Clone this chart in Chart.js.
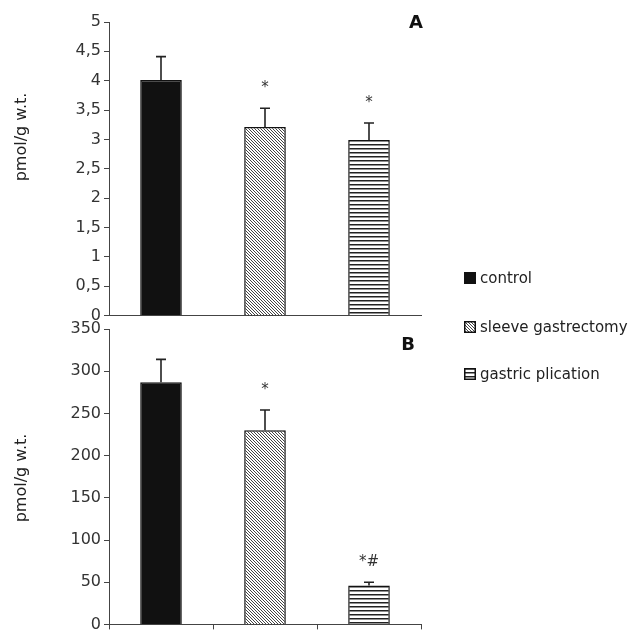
<!DOCTYPE html>
<html>
<head>
<meta charset="utf-8">
<script src="https://cdn.jsdelivr.net/npm/chart.js@4"></script>
<style>
  body { margin: 0; background: #fff; width: 628px; height: 631px; position: relative; overflow: hidden; font-family: "DejaVu Sans", sans-serif; }
  canvas { position: absolute; left: 0; }
  #chartA { top: 0; }
  #chartB { top: 310px; }
  .legend { position: absolute; left: 464px; color: #222; font-size: 15px; line-height: 16px; }
  .legend canvas { position: static; vertical-align: -1px; margin-right: 4px; }
</style>
</head>
<body>
<canvas id="chartA" width="628" height="328"></canvas>
<canvas id="chartB" width="628" height="327"></canvas>
<div class="legend" style="top:270px"><canvas id="sw0" width="12" height="12"></canvas>control</div>
<div class="legend" style="top:319px"><canvas id="sw1" width="12" height="12"></canvas>sleeve gastrectomy</div>
<div class="legend" style="top:366px"><canvas id="sw2" width="12" height="12"></canvas>gastric plication</div>
<script>
// data
const groups = ['control', 'sleeve gastrectomy', 'gastric plication'];
const meanA = [4.01, 3.21, 2.99];
const errA = [0.40, 0.32, 0.29];
const sigA = ['', '*', '*'];
const meanB = [287, 230, 46];
const errB = [27, 24, 4];
const sigB = ['', '*', '*#'];
const ticksA = { min: 0, max: 5, step: 0.5 };
const ticksB = { min: 0, max: 350, step: 50 };

// hatch patterns
function diagPattern() {
    const c = document.createElement('canvas');
    c.width = 3; c.height = 3;
    const g = c.getContext('2d');
    g.fillStyle = '#fff';
    g.fillRect(0, 0, 3, 3);
    g.strokeStyle = '#444';
    g.lineWidth = 1;
    g.beginPath();
    g.moveTo(-1, -1); g.lineTo(4, 4);
    g.moveTo(-1, 2); g.lineTo(1, 4);
    g.moveTo(2, -1); g.lineTo(4, 1);
    g.stroke();
    return c;
}
function horizPattern() {
    const c = document.createElement('canvas');
    c.width = 4; c.height = 4;
    const g = c.getContext('2d');
    g.fillStyle = '#fff';
    g.fillRect(0, 0, 4, 4);
    g.fillStyle = '#222';
    g.fillRect(0, 0, 4, 1.5);
    return c;
}
const ctx0 = document.getElementById('chartA').getContext('2d');
const fills = ['#111', ctx0.createPattern(diagPattern(), 'repeat'), ctx0.createPattern(horizPattern(), 'repeat')];

// legend swatches
['sw0', 'sw1', 'sw2'].forEach((id, i) => {
    const g = document.getElementById(id).getContext('2d');
    g.fillStyle = i == 0 ? '#111' : g.createPattern(i == 1 ? diagPattern() : horizPattern(), 'repeat');
    g.fillRect(0, 0, 12, 12);
    g.strokeStyle = '#111';
    g.lineWidth = 1.5;
    g.strokeRect(0.75, 0.75, 10.5, 10.5);
});

const errorBars = {
    id: 'errorBars',
    afterDatasetsDraw(chart, args, opts) {
        const g = chart.ctx;
        const y = chart.scales.y;
        const meta = chart.getDatasetMeta(0);
        g.save();
        meta.data.forEach((bar, i) => {
            const top = y.getPixelForValue(opts.mean[i] + opts.err[i]);
            g.strokeStyle = '#222';
            g.lineWidth = 1.6;
            g.beginPath();
            g.moveTo(bar.x, bar.y);
            g.lineTo(bar.x, top);
            g.moveTo(bar.x - 5, top);
            g.lineTo(bar.x + 5, top);
            g.stroke();
            if (opts.sig[i]) {
                g.fillStyle = '#333';
                g.font = '15px "DejaVu Sans"';
                g.textAlign = 'center';
                g.textBaseline = 'alphabetic';
                g.fillText(opts.sig[i], bar.x, top - 16);
            }
        });
        // panel letter and axis title
        g.fillStyle = '#111';
        g.font = 'bold 18px "DejaVu Sans"';
        g.textAlign = 'center';
        g.textBaseline = 'middle';
        g.fillText(opts.letter, opts.letterX, opts.letterY);
        g.translate(22, opts.titleY);
        g.rotate(-Math.PI / 2);
        g.fillStyle = '#222';
        g.font = '16px "DejaVu Sans"';
        g.fillText('pmol/g w.t.', 0, 0);
        g.restore();
    }
};

function makeChart(id, mean, err, sig, t, extra) {
    return new Chart(document.getElementById(id), {
        type: 'bar',
        data: {
            labels: groups,
            datasets: [{
                data: mean,
                backgroundColor: fills,
                borderColor: '#111',
                borderWidth: 1.5,
                categoryPercentage: 1,
                barPercentage: 0.4
            }]
        },
        options: {
            responsive: false,
            animation: false,
            events: [],
            layout: { padding: { top: extra.padTop, right: 207, bottom: 0, left: 0 } },
            plugins: {
                legend: { display: false },
                tooltip: { enabled: false },
                errorBars: { mean: mean, err: err, sig: sig, letter: extra.letter, letterX: extra.letterX, letterY: extra.letterY, titleY: extra.titleY }
            },
            scales: {
                x: {
                    ticks: { display: false },
                    grid: { display: extra.xTicks, drawOnChartArea: false, tickLength: 5, color: '#444' },
                    border: { display: true, color: '#444', width: 1 },
                    afterFit: s => { s.height = extra.xHeight; }
                },
                y: {
                    min: t.min,
                    max: t.max,
                    ticks: {
                        stepSize: t.step,
                        color: '#333',
                        padding: 3,
                        font: { family: 'DejaVu Sans', size: 16 },
                        callback: v => String(v).replace('.', ',')
                    },
                    grid: { drawOnChartArea: false, tickLength: 5, color: '#444' },
                    border: { display: true, color: '#444', width: 1 },
                    afterFit: s => { s.width = 109; }
                }
            }
        },
        plugins: [errorBars]
    });
}

const chartA = makeChart('chartA', meanA, errA, sigA, ticksA,
    { padTop: 22, xTicks: false, xHeight: 5, letter: 'A', letterX: 416, letterY: 23, titleY: 137 });
const chartB = makeChart('chartB', meanB, errB, sigB, ticksB,
    { padTop: 19, xTicks: true, xHeight: 7, letter: 'B', letterX: 408, letterY: 35, titleY: 168 });
</script>
</body>
</html>
